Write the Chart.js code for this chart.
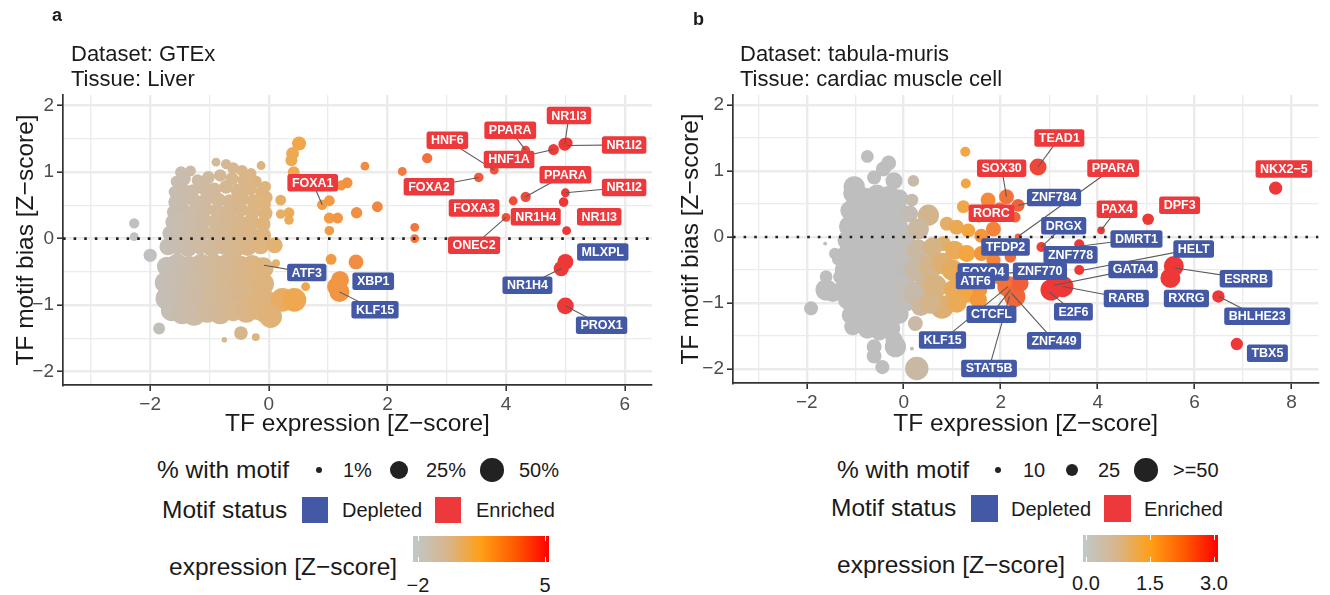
<!DOCTYPE html>
<html>
<head>
<meta charset="utf-8">
<script src="https://cdn.jsdelivr.net/npm/chart.js@4.4.0/dist/chart.umd.min.js"></script>
<style>
body { margin: 0; background: #fff; font-family: "Liberation Sans", Arial, sans-serif; }
#wrap { position: relative; width: 1330px; height: 595px; overflow: hidden; }
canvas { position: absolute; top: 0; }
.t { position: absolute; white-space: nowrap; line-height: 1; color: #1a1a1a; }
.dot { position: absolute; border-radius: 50%; background: #222; }
.box { position: absolute; }
</style>
</head>
<body>
<div id="wrap">
  <canvas id="gtex" width="665" height="440" style="left:0"></canvas>
  <canvas id="tm" width="665" height="440" style="left:665px"></canvas>
</div>
<script>
// ---- data: [TF expression, TF motif bias, % with motif] ----
// panel a, GTEx liver
const gtexCloudTop = [
  [-1.48,1.0,8],[-1.32,1.02,6],[-0.89,1.15,3],[-0.72,1.12,5],[-0.6,1.06,8],[-0.45,1.02,7],[-0.3,0.98,6],[-0.13,1.1,3],
  [-1.56,0.86,7],[-1.42,0.9,9],[-1.2,0.88,8],[-1.02,0.92,10],[-0.82,0.95,9],[-0.62,0.9,11],[-0.42,0.88,10],[-0.22,0.86,8],[-0.06,0.78,7],
  [-1.58,0.7,10],[-1.45,0.74,12],[-1.28,0.72,11],[-1.1,0.76,12],[-0.92,0.74,13],[-0.72,0.78,12],[-0.52,0.72,14],[-0.32,0.75,12],[-0.12,0.7,11],[-0.04,0.62,9],
  [-1.58,0.55,12],[-1.42,0.6,13],[-1.24,0.56,14],[-1.05,0.6,13],[-0.85,0.58,15],[-0.66,0.56,14],[-0.46,0.6,15],[-0.26,0.56,13],[-0.08,0.52,12],
  [-1.6,0.4,13],[-1.46,0.44,15],[-1.27,0.4,14],[-1.08,0.45,16],[-0.88,0.42,15],[-0.68,0.4,17],[-0.48,0.44,15],[-0.28,0.4,16],[-0.06,0.38,14]
];
const gtexCloudMid = [
  [-1.62,0.25,15],[-1.48,0.28,17],[-1.3,0.24,16],[-1.1,0.28,18],[-0.9,0.25,17],[-0.7,0.28,18],[-0.5,0.24,19],[-0.3,0.26,17],[-0.1,0.22,16],
  [-1.66,0.08,18],[-1.5,0.1,20],[-1.32,0.06,22],[-1.12,0.1,20],[-0.92,0.06,22],[-0.72,0.1,21],[-0.52,0.05,23],[-0.32,0.08,22],[-0.1,0.04,20],
  [-1.7,-0.12,22],[-1.54,-0.1,25],[-1.36,-0.14,24],[-1.16,-0.1,26],[-0.96,-0.14,25],[-0.76,-0.1,27],[-0.56,-0.15,26],[-0.36,-0.12,27],[-0.14,-0.1,25]
];
const gtexCloudLow = [
  [-1.72,-0.42,32],[-1.54,-0.38,36],[-1.34,-0.42,38],[-1.14,-0.38,35],[-0.92,-0.4,40],[-0.7,-0.38,37],[-0.48,-0.42,39],[-0.28,-0.4,36],[-0.1,-0.44,38],
  [-1.74,-0.66,40],[-1.56,-0.62,42],[-1.36,-0.66,45],[-1.16,-0.62,41],[-0.94,-0.66,44],[-0.72,-0.64,46],[-0.5,-0.68,43],[-0.28,-0.64,45],[-0.1,-0.68,42],
  [-1.72,-0.9,44],[-1.54,-0.94,46],[-1.34,-0.88,48],[-1.14,-0.92,44],[-0.92,-0.9,47],[-0.7,-0.94,50],[-0.48,-0.9,45],[-0.26,-0.94,48],[-0.1,-0.9,46],
  [-1.64,-1.08,38],[-1.46,-1.12,42],[-1.26,-1.14,44],[-1.04,-1.1,40],[-0.82,-1.12,42],[-0.6,-1.08,38],[-0.38,-1.1,41],[-0.18,-1.06,40],[-0.06,-1.1,44]
];
const gtexSide = [
  [-2.27,0.23,5],[-2.27,0.03,3],[-2.0,-0.25,11],[-1.85,-1.35,8],
  [0.1,-0.1,18],[0.12,-0.37,2],[0.2,0.58,6],[0.34,0.39,6],[0.2,0.37,4],[0.34,0.28,4],
  [0.51,1.43,13],[0.4,1.28,10],[0.38,1.18,8],[0.42,1.0,8],
  [0.23,-0.92,50],[0.43,-0.92,50],[0.03,-1.17,45],[0.62,-0.72,3],
  [-0.47,-1.42,12],[-0.22,-1.48,2],[-0.75,-1.52,0.3],
  [0.9,0.51,5],[1.02,0.57,6],[1.22,0.8,5],[1.32,0.84,6],[1.02,0.31,6],[1.16,0.31,6],[1.02,0.12,4],[1.48,0.39,7],[1.83,0.48,6],[1.62,1.09,3],
  [1.05,-0.31,6],[1.47,-0.35,15],[1.2,-0.62,25],[1.19,-0.8,33],[1.14,-0.72,28]
];
const gtexFar = [
  [2.25,1.01,3],[2.67,1.21,5],[2.46,0.17,3],[2.46,0.0,3],[3.54,0.92,4],[3.8,1.03,3],[4.33,1.33,3],[4.8,1.34,6],[4.99,1.42,10],[5.03,1.44,6],
  [4.33,0.63,5],[4.12,0.57,3],[5.0,0.69,3],[4.97,0.55,4],[5.02,0.12,3],[4.0,0.32,3],
  [5.0,-0.35,18],[4.93,-0.45,16],[5.0,-1.01,21]
];
// labels: [name, status, label x, label y, point x, point y]
const gtexLabels = [
  ['FOXA1','E',0.74,0.84,0.9,0.51],
  ['HNF6','E',3.01,1.48,3.8,1.03],
  ['PPARA','E',4.07,1.63,4.33,1.33],
  ['NR1I3','E',5.06,1.85,4.99,1.42],
  ['NR1I2','E',5.99,1.41,5.02,1.4],
  ['HNF1A','E',4.05,1.19,4.8,1.34],
  ['FOXA2','E',2.7,0.78,3.54,0.92],
  ['PPARA','E',5.0,0.96,4.33,0.63],
  ['NR1I2','E',5.99,0.77,5.0,0.69],
  ['FOXA3','E',3.46,0.46,null,null],
  ['NR1H4','E',4.5,0.33,null,null],
  ['NR1I3','E',5.57,0.33,null,null],
  ['ONEC2','E',3.46,-0.1,4.0,0.32],
  ['MLXPL','D',5.63,-0.2,null,null],
  ['NR1H4','D',4.36,-0.7,4.93,-0.45],
  ['PROX1','D',5.61,-1.3,5.0,-1.01],
  ['ATF3','D',0.64,-0.51,-0.08,-0.4],
  ['XBP1','D',1.76,-0.64,null,null],
  ['KLF15','D',1.79,-1.07,1.19,-0.8]
];

// panel b, tabula-muris cardiac muscle cell
const tmGreyTop = [
  [-0.75,1.22,25],[-0.31,1.12,30],[-0.42,1.03,30],[-0.61,0.9,28],[-1.02,0.76,45],[-1.08,0.5,20],[-0.2,0.85,35],
  [-1.05,0.66,40],[-0.8,0.6,42],[-0.55,0.65,40],[-0.3,0.62,44],[-0.1,0.58,40],
  [-1.1,0.4,42],[-0.85,0.42,44],[-0.6,0.38,42],[-0.35,0.42,45],[-0.1,0.38,42],
  [-1.12,0.16,44],[-0.88,0.2,42],[-0.62,0.16,45],[-0.38,0.2,43],[-0.12,0.15,44]
];
const tmGreyLow = [
  [-1.15,-0.05,44],[-0.9,-0.02,45],[-0.65,-0.06,43],[-0.4,-0.03,46],[-0.15,-0.07,44],[0.04,-0.02,40],
  [-1.18,-0.28,43],[-0.92,-0.25,46],[-0.68,-0.3,44],[-0.42,-0.26,45],[-0.18,-0.3,47],[0.04,-0.26,42],
  [-1.2,-0.5,45],[-0.95,-0.52,44],[-0.7,-0.48,47],[-0.45,-0.52,45],[-0.2,-0.48,46],[0.03,-0.52,44],
  [-1.18,-0.72,44],[-0.93,-0.75,47],[-0.68,-0.72,45],[-0.43,-0.76,46],[-0.18,-0.72,44],[0.04,-0.75,45],
  [-1.15,-0.95,42],[-0.9,-0.98,45],[-0.65,-0.94,46],[-0.4,-0.97,44],[-0.15,-0.95,45],[0.04,-0.98,42],
  [-1.08,-1.18,40],[-0.82,-1.2,44],[-0.58,-1.16,42],[-0.33,-1.2,45],[-0.1,-1.17,41],
  [-1.05,-1.36,35],[-0.75,-1.4,38],[-0.5,-1.42,40],[-0.25,-1.38,36]
];
const tmGreyEdge = [
  [-1.62,-0.1,4],[-1.42,-0.25,22],[-1.36,-0.34,22],[-1.3,-0.6,30],[-1.6,-0.6,25],[-1.6,-0.8,45],[-1.46,-0.84,40],[-1.91,-1.08,28],
  [-0.61,-1.66,30],[-0.61,-1.8,30],[-0.44,-1.97,28],[-0.17,-1.66,45],[-0.2,-1.55,35]
];
const tmTan = [
  [0.2,0.85,22],[0.17,0.56,25],[0.12,0.35,35],[0.51,0.33,45],[0.3,0.12,45],[0.89,0.2,28],[0.82,-0.1,30],
  [0.3,-0.2,45],[0.6,-0.15,40],[0.25,-0.5,48],[0.55,-0.45,50],[0.8,-0.4,45],[0.44,-0.78,50],[0.2,-0.85,45],
  [0.65,-0.75,50],[0.79,-1.06,55],[0.35,-1.05,40],[0.55,-1.0,45],[0.24,-1.31,30],[0.17,-1.69,4],[0.27,-1.99,60]
];
const tmOrange = [
  [1.27,1.29,18],[1.28,0.81,18],[1.23,0.46,25],[1.09,0.15,30],[1.33,0.1,28],[1.6,0.02,28],[1.85,0.12,30],[1.74,0.56,30],[1.55,0.3,20],
  [1.05,-0.2,40],[1.3,-0.25,35],[1.6,-0.25,30],[1.85,-0.35,28],[1.0,-0.5,45],[1.25,-0.55,45],[1.47,-0.6,40],[1.75,-0.6,30],
  [1.05,-0.8,45],[1.3,-0.85,40],[1.54,-0.95,35],[1.57,-0.8,30],[1.1,-1.0,40]
];
const tmHigh = [
  [2.12,0.61,30],[2.36,0.48,25],[1.98,0.42,28],[2.3,0.3,20],[2.36,0.0,10],[2.77,1.06,35],
  [2.0,-0.6,35],[2.15,-0.75,45],[2.29,-0.9,45],[2.4,-0.7,35],[2.84,-0.15,18],[2.2,-0.3,22],
  [3.04,-0.8,45],[3.28,-0.75,45],[3.62,-0.11,18],[3.62,-0.5,18],[4.07,0.1,12],[5.04,0.27,22],[7.67,0.74,26],
  [5.57,-0.44,42],[5.5,-0.62,42],[6.49,-0.9,24],[6.87,-1.62,24]
];
const tmLabels = [
  ['TEAD1','E',3.21,1.5,2.77,1.06],
  ['SOX30','E',2.02,1.04,2.12,0.61],
  ['PPARA','E',4.32,1.04,2.38,0.02],
  ['ZNF784','D',3.1,0.6,2.36,0.48],
  ['RORC','E',1.81,0.36,null,null],
  ['PAX4','E',4.4,0.42,4.07,0.1],
  ['DPF3','E',5.69,0.48,null,null],
  ['NKX2\u22125','E',7.84,1.03,null,null],
  ['DRGX','D',3.3,0.17,2.84,-0.15],
  ['DMRT1','D',4.8,-0.03,3.62,-0.14],
  ['TFDP2','D',2.1,-0.15,null,null],
  ['HELT','D',5.98,-0.18,3.72,-0.5],
  ['ZNF778','D',3.44,-0.27,null,null],
  ['GATA4','D',4.73,-0.49,3.1,-0.73],
  ['ESRRB','D',7.06,-0.63,5.6,-0.47],
  ['FOXO4','D',1.64,-0.53,null,null],
  ['ZNF770','D',2.81,-0.52,2.0,-0.55],
  ['ATF6','D',1.48,-0.66,null,null],
  ['RARB','D',4.59,-0.93,3.28,-0.75],
  ['RXRG','D',5.83,-0.93,null,null],
  ['E2F6','D',3.5,-1.13,3.0,-0.83],
  ['CTCFL','D',1.81,-1.17,2.2,-0.8],
  ['BHLHE23','D',7.29,-1.2,6.5,-0.9],
  ['KLF15','D',0.8,-1.56,2.15,-0.75],
  ['ZNF449','D',3.1,-1.57,2.22,-0.85],
  ['TBX5','D',7.5,-1.76,null,null],
  ['STAT5B','D',1.76,-1.99,2.18,-0.9]
];

const gtexXTicks = [-3,-2,-1,0,1,2,3,4,5,6];
const tmXTicks = [-3,-2,-1,0,1,2,3,4,5,6,7,8];
const yTicks = [-2,-1.5,-1,-0.5,0,0.5,1,1.5,2];

const RED = '#ee393c';
const BLUE = '#4459a6';
const FONT = '"Liberation Sans", Arial, sans-serif';
Chart.defaults.font.family = FONT;

function mix(stops, t) {
  t = Math.max(0, Math.min(1, t));
  for (let i = 1; i < stops.length; i++) {
    if (t <= stops[i][0]) {
      const a = stops[i - 1], b = stops[i];
      const f = (t - a[0]) / (b[0] - a[0]);
      const c = a[1].map((v, k) => Math.round(v + (b[1][k] - v) * f));
      return 'rgb(' + c.join(',') + ')';
    }
  }
  return 'rgb(' + stops[stops.length - 1][1].join(',') + ')';
}
const colA = x => mix([[0,[192,192,192]],[0.286,[224,179,122]],[0.36,[242,166,70]],[1,[238,55,55]]], (x + 2) / 7);
const colB = x => mix([[0,[190,190,190]],[0.45,[245,165,60]],[1,[238,55,55]]], x / 3);
const radA = p => 2 + 1.4 * Math.sqrt(p);
const radB = p => {
  if (p <= 10) return 1 + 0.24 * p;
  if (p <= 25) return 3.4 + 0.2 * (p - 10);
  return 6.4 + 0.212 * (Math.min(p, 50) - 25);
};

const fmt = v => v < 0 ? '\u2212' + Math.abs(v) : String(v);

// dotted zero line + repelled labels
const overlay = {
  id: 'overlay',
  afterDatasetsDraw(chart, args, opts) {
    const { ctx, chartArea: a } = chart;
    const sx = chart.scales.x, sy = chart.scales.y;
    ctx.save();
    const y0 = sy.getPixelForValue(0);
    ctx.setLineDash([2.6, 8]);
    ctx.lineWidth = 2.6;
    ctx.strokeStyle = '#222';
    ctx.beginPath(); ctx.moveTo(a.left, y0); ctx.lineTo(a.right, y0); ctx.stroke();
    ctx.setLineDash([]);

    ctx.strokeStyle = '#5a5a5a';
    ctx.lineWidth = 1.1;
    opts.labels.forEach(l => {
      if (l[4] === null) return;
      ctx.beginPath();
      ctx.moveTo(sx.getPixelForValue(l[2]), sy.getPixelForValue(l[3]));
      ctx.lineTo(sx.getPixelForValue(l[4]), sy.getPixelForValue(l[5]));
      ctx.stroke();
    });

    ctx.font = 'bold 12.5px ' + FONT;
    ctx.textAlign = 'center';
    ctx.textBaseline = 'middle';
    opts.labels.forEach(l => {
      const cx = sx.getPixelForValue(l[2]), cy = sy.getPixelForValue(l[3]);
      const w = ctx.measureText(l[0]).width + 9, h = 17.5;
      ctx.fillStyle = l[1] === 'E' ? RED : BLUE;
      ctx.beginPath();
      ctx.roundRect(cx - w / 2, cy - h / 2, w, h, 2.5);
      ctx.fill();
      ctx.fillStyle = '#fff';
      ctx.fillText(l[0], cx, cy + 0.5);
    });
    ctx.restore();
  }
};

function makePanel(id, points, labels, cfg) {
  const data = points.map(p => ({ x: p[0], y: p[1], pct: p[2] }));
  const tickFont = { size: 19, family: FONT };
  const titleFont = { size: 24.5, family: FONT, lineHeight: 1.2 };
  return new Chart(document.getElementById(id), {
    type: 'scatter',
    data: {
      datasets: [{
        data: data,
        pointRadius: c => cfg.radius(c.raw.pct),
        pointHoverRadius: c => cfg.radius(c.raw.pct),
        pointBackgroundColor: c => cfg.color(c.raw.x),
        pointBorderWidth: 0,
        pointHoverBorderWidth: 0
      }]
    },
    options: {
      responsive: false,
      animation: false,
      events: [],
      layout: { padding: { left: 0, right: cfg.padRight, top: 95, bottom: 0 } },
      plugins: {
        legend: { display: false },
        tooltip: { enabled: false },
        overlay: { labels: labels }
      },
      scales: {
        x: {
          type: 'linear',
          min: cfg.xMin, max: cfg.xMax,
          afterBuildTicks: s => { s.ticks = cfg.xTicks.map(v => ({ value: v })); },
          afterFit: s => { s.height = cfg.xHeight; },
          ticks: {
            autoSkip: false, maxRotation: 0, padding: 2,
            font: tickFont, color: '#4d4d4d',
            callback: v => v % 2 === 0 ? fmt(v) : ''
          },
          grid: {
            color: '#ebebeb',
            lineWidth: c => c.tick && c.tick.value % 2 === 0 ? 2.4 : 1.3,
            tickLength: 6,
            tickWidth: 1.6,
            tickColor: c => c.tick && c.tick.value % 2 === 0 ? '#333' : 'rgba(0,0,0,0)'
          },
          border: { display: true, color: '#333', width: 1.7 },
          title: { display: true, text: 'TF expression [Z\u2212score]', font: titleFont, color: '#1a1a1a', padding: { top: 0, bottom: 1 } }
        },
        y: {
          type: 'linear',
          min: cfg.yMin, max: cfg.yMax,
          afterBuildTicks: s => { s.ticks = yTicks.map(v => ({ value: v })); },
          afterFit: s => { s.width = cfg.yWidth; },
          ticks: {
            autoSkip: false, padding: 3,
            font: tickFont, color: '#4d4d4d',
            callback: v => Number.isInteger(v) ? fmt(v) : ''
          },
          grid: {
            color: '#ebebeb',
            lineWidth: c => c.tick && Number.isInteger(c.tick.value) ? 2.4 : 1.3,
            tickLength: 6,
            tickWidth: 1.6,
            tickColor: c => c.tick && Number.isInteger(c.tick.value) ? '#333' : 'rgba(0,0,0,0)'
          },
          border: { display: true, color: '#333', width: 1.7 },
          title: { display: true, text: 'TF motif bias [Z\u2212score]', font: titleFont, color: '#1a1a1a', padding: { top: 12, bottom: 0 } }
        }
      }
    },
    plugins: [overlay]
  });
}

makePanel('gtex', [].concat(gtexCloudTop, gtexCloudMid, gtexCloudLow, gtexSide, gtexFar), gtexLabels, {
  xMin: -3.47, xMax: 6.46, yMin: -2.2, yMax: 2.16, xTicks: gtexXTicks,
  yWidth: 63, xHeight: 55, padRight: 13, color: colA, radius: radA
});
makePanel('tm', [].concat(tmGreyEdge, tmGreyTop, tmGreyLow, tmTan, tmOrange, tmHigh), tmLabels, {
  xMin: -3.52, xMax: 8.55, yMin: -2.21, yMax: 2.15, xTicks: tmXTicks,
  yWidth: 68, xHeight: 57, padRight: 8, color: colB, radius: radB
});

// ---- titles and legends (html text) ----
const wrap = document.getElementById('wrap');
function txt(x, base, s, size, extra) {
  const d = document.createElement('div');
  d.className = 't';
  d.textContent = s;
  d.style.left = x + 'px';
  d.style.top = (base - 0.8465 * size) + 'px';
  d.style.fontSize = size + 'px';
  if (extra) Object.assign(d.style, extra);
  wrap.appendChild(d);
  return d;
}
function dot(cx, cy, r) {
  const d = document.createElement('div');
  d.className = 'dot';
  Object.assign(d.style, { left: (cx - r) + 'px', top: (cy - r) + 'px', width: 2 * r + 'px', height: 2 * r + 'px' });
  wrap.appendChild(d);
}
function rect(x, y, w, h, bg) {
  const d = document.createElement('div');
  d.className = 'box';
  Object.assign(d.style, { left: x + 'px', top: y + 'px', width: w + 'px', height: h + 'px', background: bg });
  wrap.appendChild(d);
}
const centered = { transform: 'translateX(-50%)' };
const barGrad = 'linear-gradient(to right, #bfc9c9 0%, #d8b58c 25%, #ff9f16 50%, #ff5a00 75%, #ff0000 100%)';

// panel a
txt(52, 21.7, 'a', 18, { fontWeight: 'bold' });
txt(71, 62, 'Dataset: GTEx', 22);
txt(71, 87, 'Tissue: Liver', 22);
txt(157, 478.5, '% with motif', 24.5);
dot(319, 470, 3.4); txt(343, 477, '1%', 20);
dot(399, 470, 9.3); txt(426, 477, '25%', 20);
dot(492, 470, 11.7); txt(519, 477, '50%', 20);
txt(162, 518.8, 'Motif status', 24.5);
rect(302, 497, 26, 26, BLUE); txt(342, 517.2, 'Depleted', 20);
rect(435, 497, 26, 26, RED); txt(476, 517.2, 'Enriched', 20);
txt(169, 575.5, 'expression [Z\u2212score]', 24.5);
rect(413, 536, 136, 26, barGrad);
[418, 545].forEach(x => { rect(x - 0.5, 536, 1.2, 5, '#fff'); rect(x - 0.5, 557, 1.2, 5, '#fff'); });
txt(418, 592, '\u22122', 20, centered);
txt(545, 592, '5', 20, centered);

// panel b
txt(693, 25, 'b', 18, { fontWeight: 'bold' });
txt(740, 62, 'Dataset: tabula-muris', 22);
txt(740, 87, 'Tissue: cardiac muscle cell', 22);
txt(837, 478.5, '% with motif', 24.5);
dot(998, 470, 3.4); txt(1023, 477, '10', 20);
dot(1072, 470, 6.4); txt(1098, 477, '25', 20);
dot(1146, 470, 11.7); txt(1173, 477, '>=50', 20);
txt(831, 517, 'Motif status', 24.5);
rect(971, 495, 27, 27, BLUE); txt(1011, 515.5, 'Depleted', 20);
rect(1104, 495, 27, 27, RED); txt(1144, 515.5, 'Enriched', 20);
txt(837, 573.5, 'expression [Z\u2212score]', 24.5);
rect(1083, 535, 135, 27, barGrad);
[1086, 1150, 1214].forEach(x => { rect(x - 0.5, 535, 1.2, 5, '#fff'); rect(x - 0.5, 557, 1.2, 5, '#fff'); });
txt(1086, 590, '0.0', 20, centered);
txt(1150, 590, '1.5', 20, centered);
txt(1214, 590, '3.0', 20, centered);
</script>
</body>
</html>
